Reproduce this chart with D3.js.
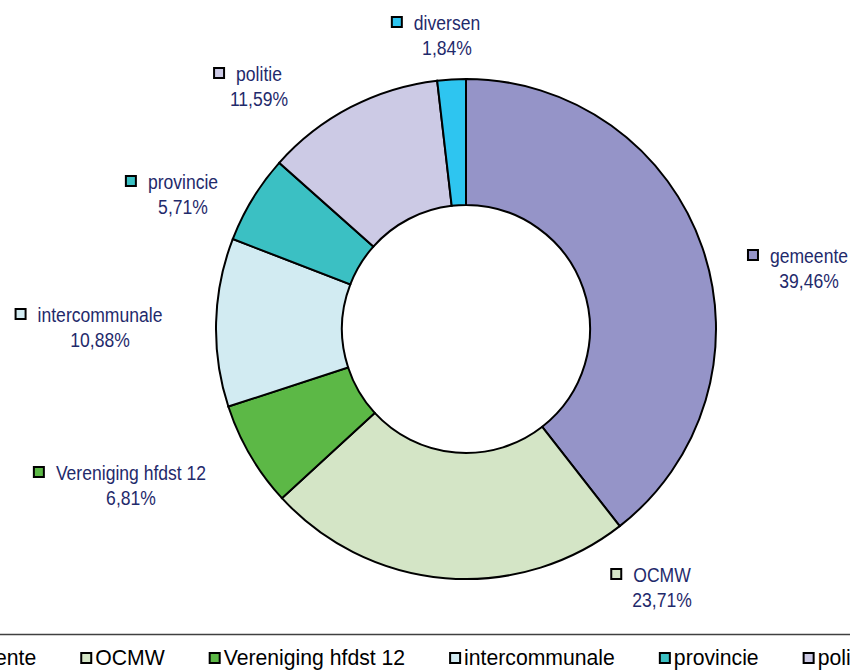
<!DOCTYPE html>
<html>
<head>
<meta charset="utf-8">
<script src="https://cdn.jsdelivr.net/npm/d3@7"></script>
<style>
  body { margin: 0; background: #fff; }
</style>
</head>
<body>
<div id="chart"></div>
<script>
const categories = ["gemeente", "OCMW", "Vereniging hfdst 12", "intercommunale", "provincie", "politie", "diversen"];
const shares = [39.46, 23.71, 6.81, 10.88, 5.71, 11.59, 1.84];
const colors = ["#9594c8", "#d4e5c6", "#5cb846", "#d2ebf2", "#3bc0c3", "#cccae5", "#2ec5f0"];
// label anchor (text centre x, first baseline y), placed by hand like the original
const labelPos = [[809, 263], [662, 582], [131, 480], [100, 322], [183, 189], [259, 81], [447, 30]];

const width = 850, height = 672;
const svg = d3.select("#chart").append("svg")
    .attr("width", width)
    .attr("height", height);

const cx = 466, cy = 329, outerR = 250, innerR = 124;

const pie = d3.pie().sort(null).value(d => d.value);
const arc = d3.arc().innerRadius(innerR).outerRadius(outerR);
const data = categories.map((c, i) => ({name: c, value: shares[i], color: colors[i]}));

const g = svg.append("g").attr("transform", `translate(${cx},${cy})`);
g.selectAll("path")
    .data(pie(data))
    .enter().append("path")
    .attr("d", arc)
    .attr("fill", d => d.data.color)
    .attr("stroke", "#000")
    .attr("stroke-width", 2);

// data labels (narrow look: squeeze horizontally)
const fmt = v => v.toFixed(2).replace(".", ",") + "%";
const squeeze = 0.9;
data.forEach((d, i) => {
    let [lx, ly] = labelPos[i];
    let lg = svg.append("g").attr("class", "label");
    let tg = lg.append("g")
        .attr("transform", `translate(${lx},0) scale(${squeeze},1)`)
        .style("font-family", "'Liberation Sans', Arial, sans-serif")
        .style("font-size", "19.5px")
        .attr("fill", "#1f2a6b")
        .attr("text-anchor", "middle");
    let t1 = tg.append("text").attr("x", 0).attr("y", ly).text(d.name);
    tg.append("text").attr("x", 0).attr("y", ly + 25).text(fmt(d.value));
    let w = t1.node().getComputedTextLength() * squeeze;
    lg.append("rect")
        .attr("x", lx - w / 2 - 22)
        .attr("y", ly - 13)
        .attr("width", 10).attr("height", 10)
        .attr("fill", d.color)
        .attr("stroke", "#000")
        .attr("stroke-width", 2);
});

// legend (wider than the page, so it is cut at both sides)
svg.append("line")
    .attr("x1", 0).attr("x2", width)
    .attr("y1", 634.5).attr("y2", 634.5)
    .attr("stroke", "#404040")
    .attr("stroke-width", 1.5);

let lx = -73;
const legend = svg.append("g");
data.forEach(d => {
    legend.append("rect")
        .attr("x", lx + 1).attr("y", 653)
        .attr("width", 10).attr("height", 10)
        .attr("fill", d.color)
        .attr("stroke", "#000")
        .attr("stroke-width", 2);
    let t = legend.append("text")
        .attr("x", lx + 15).attr("y", 665)
        .style("font-family", "'Liberation Sans', Arial, sans-serif")
        .style("font-size", "21.2px")
        .attr("fill", "#000")
        .text(d.name);
    lx += 15 + t.node().getComputedTextLength() + 44;
});
</script>
</body>
</html>
